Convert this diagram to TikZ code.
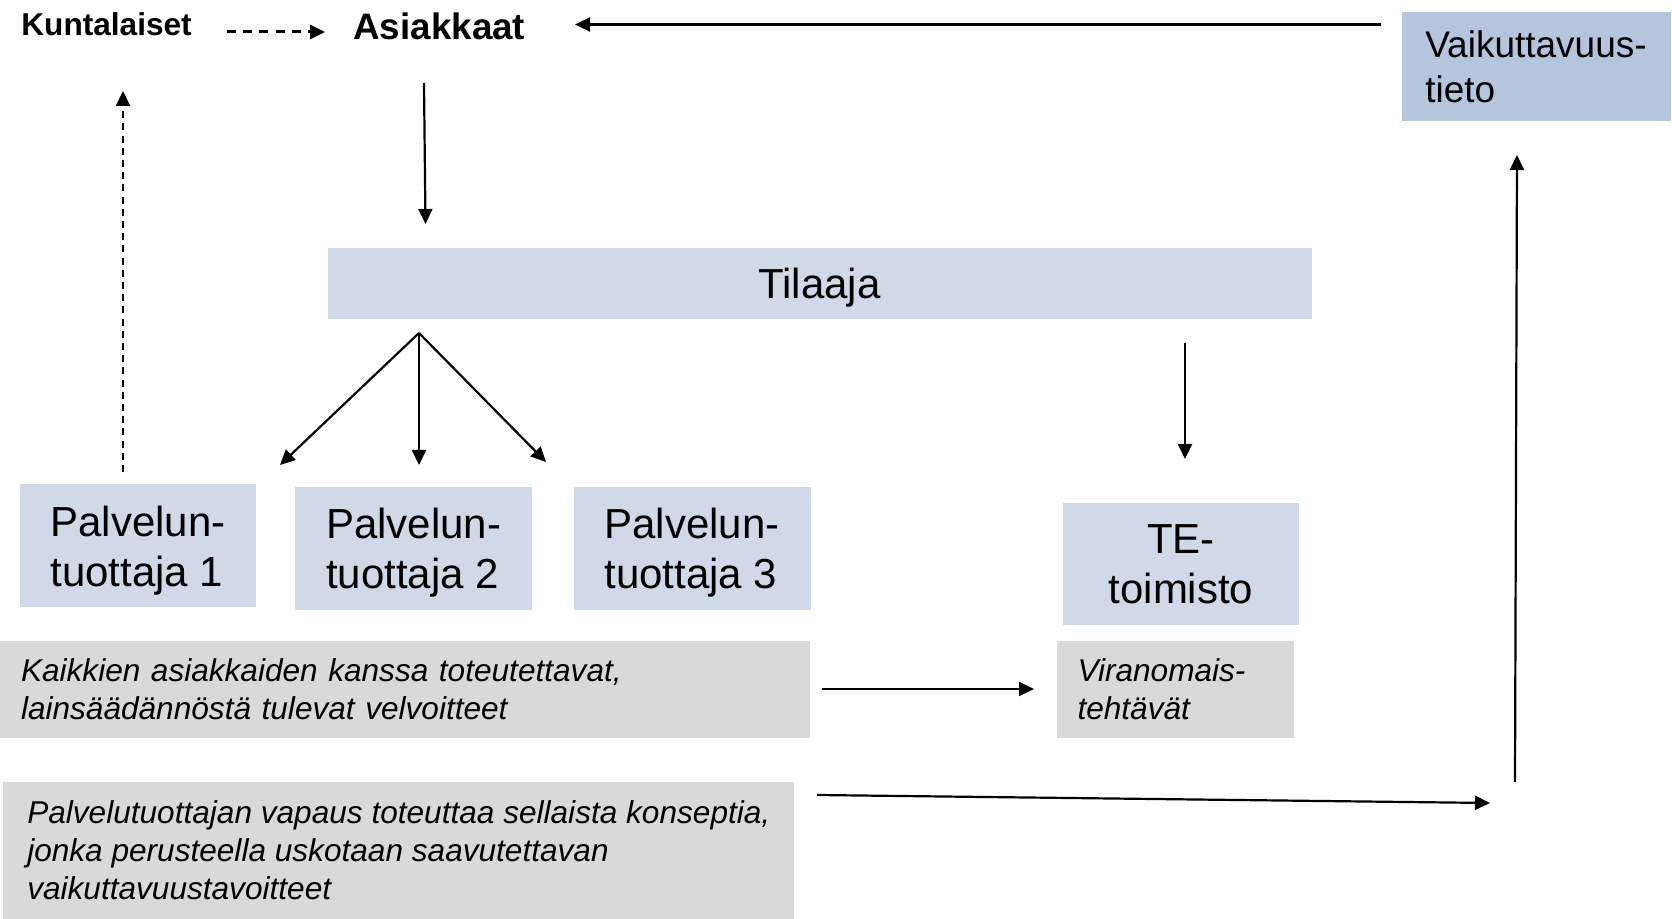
\documentclass[tikz,border=0pt]{standalone}
\usepackage{fontspec}
\setmainfont{Liberation Sans}
\usetikzlibrary{arrows.meta}
\definecolor{tilaajablue}{RGB}{207,217,232}
\definecolor{tietoblue}{RGB}{180,197,221}
\definecolor{velvgray}{RGB}{217,217,217}

\begin{document}
\begin{tikzpicture}[x=0.5pt, y=-0.5pt, >={Triangle[length=7.5pt,width=7pt]},
  bluebox/.style={fill=tilaajablue, inner sep=0pt, text depth=0pt, font=\fontsize{21}{25}\selectfont},
  greybox/.style={fill=velvgray, inner sep=0pt, inner xsep=10.5pt, align=left, font=\itshape\fontsize{15.8}{18.8}\selectfont},
  conn/.style={->, line width=1.1pt}]
\useasboundingbox (0,0) rectangle (1672,919);
% Draw top labels
\node[anchor=west, inner sep=0pt, font=\bfseries\fontsize{15.8}{19}\selectfont] (kunta) at (21,24.5) {Kuntalaiset};
\node[anchor=west, inner sep=0pt, font=\bfseries\fontsize{18.4}{22}\selectfont] (asiak) at (353,26.5) {Asiakkaat};
\node[fill=tietoblue, inner sep=0pt, minimum width=134.5pt, minimum height=54.5pt, align=left, font=\fontsize{18.5}{22.5}\selectfont] (tieto) at (1536,66.5) {Vaikuttavuus-\\tieto};
% Draw boxes
\node[bluebox, minimum width=492pt, minimum height=35.2pt] (tilaaja) at (819.5,283.5) {Tilaaja};
\node[bluebox, minimum width=118pt, minimum height=61.5pt, align=left] (ptj1) at (138,546) {Palvelun-\\tuottaja 1};
\node[bluebox, minimum width=118.5pt, minimum height=61.5pt, align=left] (ptj2) at (413.7,548.6) {Palvelun-\\tuottaja 2};
\node[bluebox, minimum width=118.5pt, minimum height=61.5pt, align=left] (ptj3) at (692,548.6) {Palvelun-\\tuottaja 3};
\node[bluebox, minimum width=118pt, minimum height=61.3pt, align=center] (te) at (1181,564) {TE-\\toimisto};
\node[greybox, text width=384pt, minimum height=48.5pt] (velv) at (405,689.5) {Kaikkien asiakkaiden kanssa toteutettavat,\\lainsäädännöstä tulevat velvoitteet};
\node[greybox, text width=97.5pt, minimum height=48pt] (viran) at (1175,689.5) {Viranomais-\\tehtävät};
\node[greybox, inner xsep=0pt, minimum width=395.5pt, minimum height=68.7pt] (vapaus) at (398.8,850.3) {Palvelutuottajan vapaus toteuttaa sellaista konseptia,\\jonka perusteella uskotaan saavutettavan\\vaikuttavuustavoitteet};
% Connector ends
\coordinate (kuntaR) at (227,32);
\coordinate (asiakL) at (325,32);
\coordinate (ptjUp) at (123,472);
\coordinate (kuntaD) at (123,91);
\coordinate (asiakD) at (424,83);
\coordinate (tilaajaU) at (425.5,224);
\coordinate (fan) at (419,333);
\coordinate (fan1) at (280,465);
\coordinate (fan2) at (419,465);
\coordinate (fan3) at (546,462);
\coordinate (tilaajaD) at (1185,343);
\coordinate (teU) at (1185,459);
\coordinate (tietoL) at (1381,24.5);
\coordinate (asiakR) at (575,24.5);
\coordinate (velvR) at (822,689);
\coordinate (viranL) at (1034,689);
\coordinate (vapausR) at (817,795);
\coordinate (nurkka) at (1490,803);
\coordinate (nousuA) at (1515,782);
\coordinate (tietoD) at (1517,155);
% Draw arrows
\draw[conn, line width=1.5pt, dash pattern=on 4.5pt off 3.6pt] (kuntaR) -- (asiakL);
\draw[conn, dash pattern=on 3.5pt off 2.6pt] (ptjUp) -- (kuntaD);
\draw[conn] (asiakD) -- (tilaajaU);
\foreach \k in {fan1,fan2,fan3}
    \draw[conn] (fan) -- (\k);
\draw[conn] (tilaajaD) -- (teU);
\draw[conn] (tietoL) -- (asiakR);
\draw[conn] (velvR) -- (viranL);
\draw[conn] (vapausR) -- (nurkka);
\draw[conn] (nousuA) -- (tietoD);
\end{tikzpicture}
\end{document}
